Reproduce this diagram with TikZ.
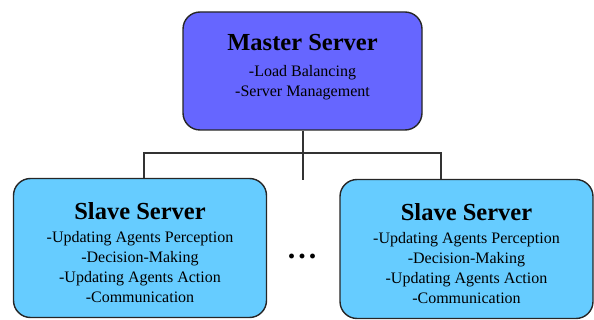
\documentclass[tikz,border=0pt]{standalone}
\usepackage{fontspec}
\setmainfont{Liberation Serif}
\usepackage{tikz}
\usetikzlibrary{calc}
\usetikzlibrary{positioning}
\definecolor{masterblue}{RGB}{102,102,255}
\definecolor{slaveblue}{RGB}{102,204,255}
\newcommand{\srvtitle}[2][3pt]{{\fontsize{24.5}{28}\selectfont\bfseries #2}\\[#1]}
\begin{document}
\begin{tikzpicture}
		[x=1pt, y=1pt,
		srvbox/.style = {draw=black!85, line width=1.4pt, rounded corners=17pt, align=center,
			inner sep=0pt, font=\fontsize{16}{20}\selectfont},
		master/.style = {srvbox, fill=masterblue, minimum width=239pt, minimum height=118pt, text depth=10.5pt},
		slave/.style = {srvbox, fill=slaveblue, minimum width=253pt, minimum height=139pt},
		wire/.style = {draw=black!80, line width=1.3pt}
		]
		\useasboundingbox (0,0) rectangle (594,-320);
		\node[master] (M) at (302.5,-71) {\srvtitle[6pt]{Master Server}-Load Balancing\\-Server Management};
		\node[slave] (S1) at (140,-248) {\srvtitle{\rule{0pt}{27pt}Slave Server}-Updating Agents Perception\\-Decision-Making\\-Updating Agents Action\\-Communication};
		\node[slave] (S2) at (466.5,-249) {\srvtitle{\rule{0pt}{27pt}Slave Server}-Updating Agents Perception\\-Decision-Making\\-Updating Agents Action\\-Communication};
		\node (dots) at (302,-256) {\fontsize{30}{30}\selectfont\bfseries .\hspace{3pt}.\hspace{3pt}.};
	
		% bus
		\coordinate (busL) at (144,-153);
		\coordinate (busR) at (441,-153);
		\coordinate (tail) at (303,-180);
		\draw[wire] (M.south -| tail) -- (tail);
		\draw[wire] (busL |- S1.north) -- (busL) -- (busR) -- (busR |- S2.north);
	\end{tikzpicture}
\end{document}
